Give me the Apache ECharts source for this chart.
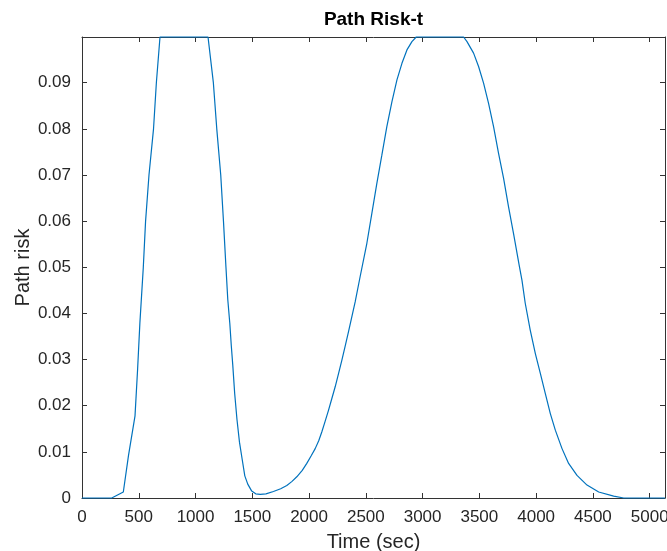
<!DOCTYPE html>
<html>
<head>
<meta charset="utf-8">
<script src="https://cdn.jsdelivr.net/npm/echarts@6/dist/echarts.min.js"></script>
<style>
html,body{margin:0;padding:0;background:#fff;}
#chart{width:667px;height:551px;}
</style>
</head>
<body>
<div id="chart"></div>
<script>
// ---- data ----
var times = [0, 262, 364, 410, 467, 490, 510, 540, 560, 590, 630, 655, 687,
  1110, 1157, 1187, 1222, 1246, 1268, 1284, 1302, 1315, 1328, 1345, 1365, 1387, 1410, 1434, 1460, 1495, 1530, 1570, 1620,
  1686, 1750, 1804, 1850, 1892, 1940, 1980, 2020, 2054, 2085, 2112, 2140, 2171, 2200, 2230, 2260, 2289, 2318, 2347, 2376, 2406, 2450,
  2509, 2553, 2597, 2641, 2685, 2730, 2774, 2818, 2862, 2906, 2944,
  3361, 3391, 3449, 3493, 3537, 3581, 3625, 3669, 3713, 3757, 3801, 3850,
  3875, 3904, 3948, 3993, 4037, 4081, 4125, 4169, 4228, 4286, 4360, 4448, 4551, 4683, 4771, 5135];
var risk = [0, 0, 0.0013, 0.0093, 0.0178, 0.028, 0.038, 0.050, 0.060, 0.070, 0.080, 0.090, 0.0999,
  0.0999, 0.090, 0.080, 0.070, 0.060, 0.050, 0.043, 0.0378, 0.033, 0.0288, 0.0226, 0.017, 0.0121, 0.0085, 0.0048, 0.003, 0.0015, 0.0009, 0.0008, 0.0009,
  0.0014, 0.002, 0.0027, 0.0036, 0.0046, 0.006, 0.0075, 0.0092, 0.0107, 0.0124, 0.0143, 0.0165, 0.019, 0.0215, 0.0241, 0.027, 0.0299, 0.0329, 0.036, 0.0392, 0.0425, 0.048,
  0.0552, 0.0617, 0.0682, 0.0743, 0.0805, 0.0859, 0.0906, 0.0942, 0.0971, 0.0989, 0.0999,
  0.0999, 0.0989, 0.0964, 0.0935, 0.0899, 0.0855, 0.0805, 0.0747, 0.0693, 0.0631, 0.0573, 0.0505,
  0.0472, 0.0422, 0.0364, 0.0313, 0.027, 0.0226, 0.0183, 0.0147, 0.0107, 0.0075, 0.0049, 0.0028, 0.0013, 0.0004, 0, 0];
var xTickStep = 500;
var xMin = 0, xMax = 5135;
var yTickStep = 0.01;
var yMin = 0, yMax = 0.0999;
var titleText = 'Path Risk-t';
var xLabel = 'Time (sec)';
var yLabel = 'Path risk';

var pts = times.map(function (t, i) { return [t, risk[i]]; });

var FONT = "'Liberation Sans', Arial, Helvetica, sans-serif";
var TXT = '#262626';
var AX = '#333333';

function xFmt(v) { return (Math.abs(v % xTickStep) < 1e-6) ? String(v) : ''; }
function yFmt(v) {
  if (v > 0.0995) return '';
  if (v === 0) return '0';
  return v.toFixed(2);
}

var axisCommon = {
  axisLine: { show: true, onZero: false, lineStyle: { color: AX, width: 1 } },
  axisTick: { show: true, inside: true, length: 5, lineStyle: { color: AX, width: 1 } },
  splitLine: { show: false }
};

var chart = echarts.init(document.getElementById('chart'), null, { renderer: 'canvas' });
chart.setOption({
  animation: false,
  backgroundColor: '#ffffff',
  title: {
    text: titleText,
    left: 373.5,
    top: 10,
    padding: 0,
    textAlign: 'center',
    textStyle: { fontFamily: FONT, fontSize: 19, fontWeight: 'bold', color: '#000' }
  },
  grid: { left: 82, top: 37, right: 2, bottom: 53, containLabel: false, outerBoundsMode: 'none' },
  xAxis: [
    Object.assign({
      type: 'value', position: 'bottom', min: xMin, max: xMax, interval: xTickStep,
      name: xLabel, nameLocation: 'middle', nameGap: 34, nameMoveOverlap: false,
      nameTextStyle: { fontFamily: FONT, fontSize: 20, color: TXT },
      axisLabel: { show: true, margin: 11, fontFamily: FONT, fontSize: 17, color: TXT, formatter: xFmt }
    }, axisCommon),
    Object.assign({
      type: 'value', position: 'top', min: xMin, max: xMax, interval: xTickStep,
      axisLabel: { show: false }
    }, axisCommon)
  ],
  yAxis: [
    Object.assign({
      type: 'value', position: 'left', min: yMin, max: yMax, interval: yTickStep,
      name: yLabel, nameLocation: 'middle', nameGap: 49, nameMoveOverlap: false,
      nameTextStyle: { fontFamily: FONT, fontSize: 20, color: TXT },
      axisLabel: { show: true, margin: 11, fontFamily: FONT, fontSize: 17, color: TXT, formatter: yFmt }
    }, axisCommon),
    Object.assign({
      type: 'value', position: 'right', min: yMin, max: yMax, interval: yTickStep,
      axisLabel: { show: false }
    }, axisCommon)
  ],
  series: [{
    type: 'line',
    xAxisIndex: 0, yAxisIndex: 0,
    data: pts,
    showSymbol: false,
    symbol: 'none',
    clip: false,
    lineStyle: { color: '#0072BD', width: 1.2 },
    itemStyle: { color: '#0072BD' }
  }]
});
</script>
</body>
</html>
